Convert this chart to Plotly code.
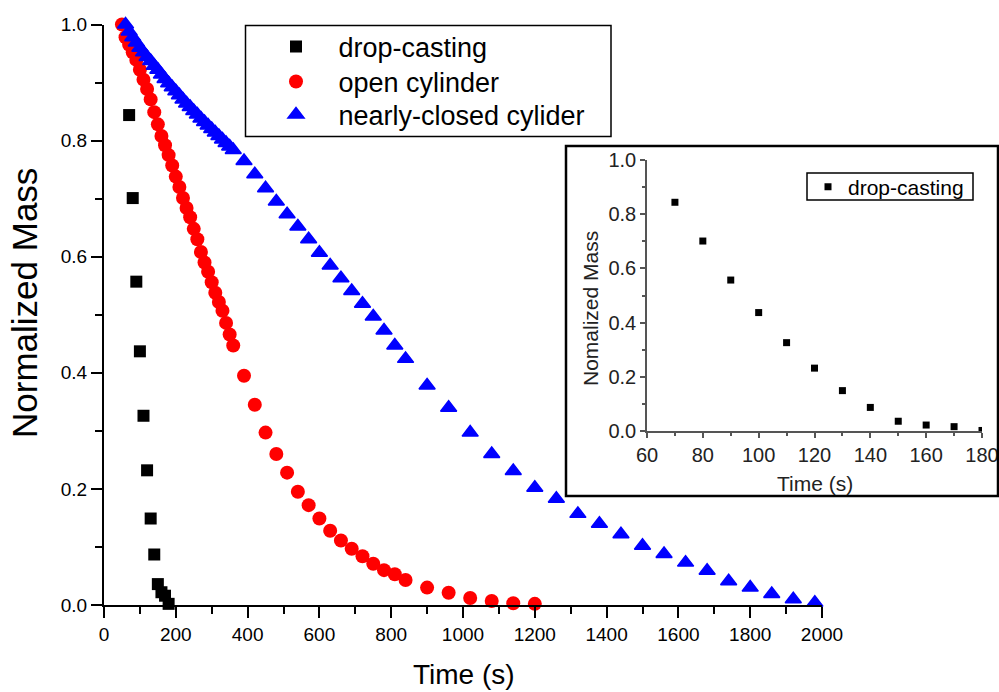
import plotly.graph_objects as go

# ---- data -------------------------------------------------------------
drop_t = [70, 80, 90, 100, 110, 120, 130, 140, 150, 160, 170, 180]
drop_m = [0.844, 0.701, 0.557, 0.437, 0.326, 0.232, 0.149, 0.087, 0.036, 0.022, 0.016, 0.002]

open_t = [50, 60, 70, 80, 90, 100, 110, 120, 130, 140, 150, 160, 170, 180, 190, 200,
          210, 220, 230, 240, 250, 260, 270, 280, 290, 300, 310, 320, 330, 340, 350, 360,
          390, 420, 450, 480, 510, 540, 570, 600, 630, 660, 690, 720, 750, 780, 810, 840,
          900, 960, 1020, 1080, 1140, 1200]
open_m = [1.000, 0.978, 0.965, 0.952, 0.939, 0.922, 0.905, 0.889, 0.871, 0.849, 0.828,
          0.808, 0.792, 0.775, 0.757, 0.738, 0.720, 0.701, 0.684, 0.668, 0.648, 0.630,
          0.608, 0.590, 0.574, 0.556, 0.538, 0.522, 0.507, 0.486, 0.466, 0.447,
          0.395, 0.345, 0.297, 0.260, 0.228, 0.195, 0.172, 0.149, 0.128, 0.111, 0.097,
          0.084, 0.071, 0.060, 0.053, 0.043,
          0.030, 0.021, 0.012, 0.007, 0.003, 0.002]

closed_t = [60, 70, 80, 90, 100, 110, 120, 130, 140, 150, 160, 170, 180, 190, 200, 210,
            220, 230, 240, 250, 260, 270, 280, 290, 300, 310, 320, 330, 340, 350, 360,
            390, 420, 450, 480, 510, 540, 570, 600, 630, 660, 690, 720, 750, 780, 810, 840,
            900, 960, 1020, 1080, 1140, 1200, 1260, 1320, 1380, 1440, 1500, 1560, 1620,
            1680, 1740, 1800, 1860, 1920, 1980]
closed_m = [1.000, 0.988, 0.978, 0.969, 0.960, 0.952, 0.944, 0.937, 0.929, 0.922, 0.914,
            0.906, 0.899, 0.892, 0.885, 0.878, 0.871, 0.864, 0.858, 0.851, 0.845, 0.838,
            0.832, 0.826, 0.820, 0.814, 0.808, 0.802, 0.796, 0.790, 0.784,
            0.765, 0.742, 0.718, 0.695, 0.673, 0.652, 0.630, 0.607, 0.585, 0.563, 0.541,
            0.519, 0.497, 0.473, 0.447, 0.424,
            0.378, 0.340, 0.297, 0.260, 0.231, 0.202, 0.183, 0.157, 0.140, 0.122, 0.102,
            0.088, 0.073, 0.059, 0.041, 0.030, 0.019, 0.010, 0.004]

names = ["drop-casting", "open cylinder", "nearly-closed cylider"]

# ---- page geometry (pixels -> paper fractions) -------------------------
W, H = 999, 692
def px(x):
    return x / W
def py(y):
    return 1 - y / H

FONT = "Arial, Liberation Sans, sans-serif"
NB = "\u00a0\u00a0\u00a0"

fig = go.Figure()

fig.add_trace(go.Scatter(
    x=drop_t, y=drop_m, mode="markers", name=NB + names[0],
    marker=dict(symbol="square", size=12, color="black"),
    cliponaxis=False, legend="legend"))
fig.add_trace(go.Scatter(
    x=open_t, y=open_m, mode="markers", name=NB + names[1],
    marker=dict(symbol="circle", size=14, color="red"),
    cliponaxis=False, legend="legend2"))
fig.add_trace(go.Scatter(
    x=closed_t, y=closed_m, mode="markers", name=NB + names[2],
    marker=dict(symbol="triangle-up", size=14, color="blue",
                line=dict(color="blue", width=1.5)),
    cliponaxis=False, legend="legend3"))

# inset: drop-casting on its own axes
fig.add_trace(go.Scatter(
    x=drop_t, y=drop_m, mode="markers", name=names[0],
    marker=dict(symbol="square", size=7, color="black"),
    xaxis="x2", yaxis="y2", legend="legend4"))

main_axis = dict(showline=True, linecolor="black", linewidth=2, mirror=False,
                 showgrid=False, zeroline=False, ticks="outside", ticklen=11,
                 tickwidth=2, tickcolor="black", automargin=False,
                 tickfont=dict(family=FONT, size=19, color="black"))
inset_axis = dict(showline=True, linecolor="#555555", linewidth=1.5, mirror=False,
                  showgrid=False, zeroline=False, ticks="outside", ticklen=5,
                  tickwidth=1.5, tickcolor="#555555", automargin=False,
                  tickfont=dict(family=FONT, size=20, color="#222222"))

def leg(x, y, size):
    return dict(x=x, y=y, xanchor="left", yanchor="middle", bgcolor="rgba(0,0,0,0)",
                borderwidth=0, itemsizing="trace", visible=True,
                font=dict(family=FONT, size=size, color="black"))

fig.update_layout(
    width=W, height=H,
    margin=dict(l=0, r=0, t=0, b=0, autoexpand=False),
    showlegend=True,
    paper_bgcolor="white", plot_bgcolor="white",
    xaxis=dict(main_axis, domain=[px(104), px(822)], range=[0, 2000], dtick=200,
               minor=dict(dtick=100, ticks="outside", ticklen=7, tickwidth=2,
                          tickcolor="black"),
               anchor="y"),
    yaxis=dict(main_axis, domain=[py(605), py(24.5)], range=[0, 1], dtick=0.2,
               tickformat=".1f",
               minor=dict(dtick=0.1, ticks="outside", ticklen=7, tickwidth=2,
                          tickcolor="black"),
               anchor="x"),
    xaxis2=dict(inset_axis, domain=[px(647), px(982)], range=[60, 180], dtick=20,
                minor=dict(dtick=10, ticks="outside", ticklen=3, tickwidth=1.5,
                           tickcolor="#555555"),
                anchor="y2"),
    yaxis2=dict(inset_axis, domain=[py(431), py(160)], range=[0, 1], dtick=0.2,
                tickformat=".1f",
                minor=dict(dtick=0.1, ticks="outside", ticklen=3, tickwidth=1.5,
                           tickcolor="#555555"),
                anchor="x2"),
    legend=leg(px(276), py(47), 27),
    legend2=leg(px(276), py(82), 27),
    legend3=leg(px(276), py(115), 27),
    legend4=leg(px(808), py(187), 21),
    shapes=[
        dict(type="rect", xref="paper", yref="paper",
             x0=px(245.5), x1=px(611), y0=py(25.5), y1=py(136.5),
             line=dict(color="black", width=1.5)),
        dict(type="rect", xref="paper", yref="paper",
             x0=px(566), x1=px(998), y0=py(146), y1=py(496),
             line=dict(color="black", width=2.5)),
        dict(type="rect", xref="paper", yref="paper",
             x0=px(807), x1=px(973), y0=py(173), y1=py(200),
             line=dict(color="black", width=1.5)),
    ],
    annotations=[
        dict(text="Time (s)", x=px(464), y=py(674), xref="paper", yref="paper",
             showarrow=False, xanchor="center", yanchor="middle",
             font=dict(family=FONT, size=28, color="black")),
        dict(text="Normalized Mass", x=px(24), y=py(303), xref="paper", yref="paper",
             showarrow=False, xanchor="center", yanchor="middle", textangle=-90,
             font=dict(family=FONT, size=35, color="black")),
        dict(text="Time (s)", x=px(815), y=py(483), xref="paper", yref="paper",
             showarrow=False, xanchor="center", yanchor="middle",
             font=dict(family=FONT, size=21, color="#222222")),
        dict(text="Nomalized Mass", x=px(590), y=py(309), xref="paper", yref="paper",
             showarrow=False, xanchor="center", yanchor="middle", textangle=-90,
             font=dict(family=FONT, size=21, color="#222222")),
    ],
)

fig.write_html("out.html")
